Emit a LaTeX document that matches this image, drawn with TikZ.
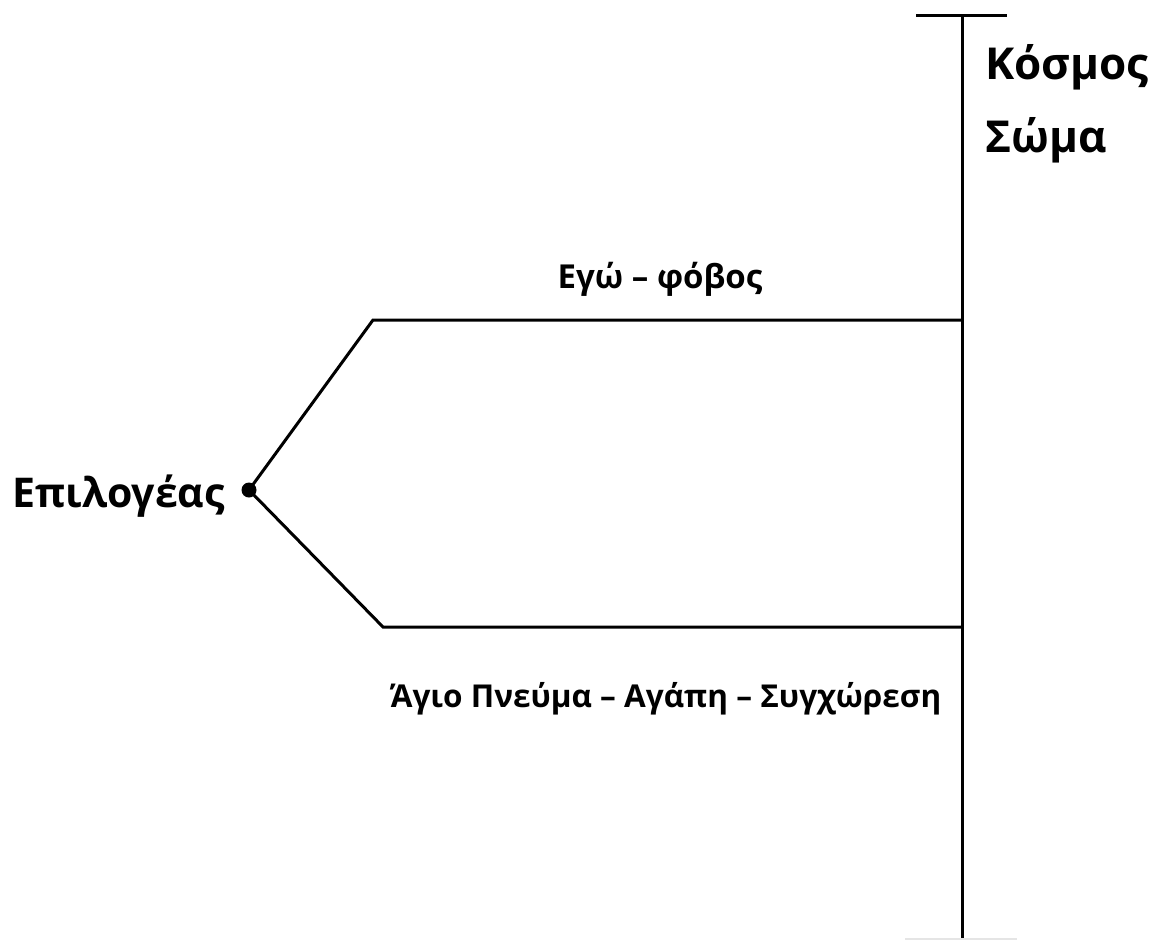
\documentclass[tikz,border=0pt]{standalone}
\usepackage{fontspec}
\setmainfont{Open Sans}
\begin{document}
\begin{tikzpicture}[x=1pt,y=-1pt,
  wire/.style={line width=3pt,line cap=butt,line join=miter},
  lbl/.style={inner sep=0pt}]
\useasboundingbox (0,0) rectangle (1154,940);
% coordinates
\coordinate (sel) at (249,490);
\coordinate (ub) at (373,320);
\coordinate (ue) at (962,320);
\coordinate (lb) at (383,627);
\coordinate (le) at (962,627);
\coordinate (vt) at (962,15);
\coordinate (vb) at (962,940);
\coordinate (tl) at (916,15);
\coordinate (tr) at (1007,15);
\coordinate (bl) at (905,939);
\coordinate (br) at (1017,939);
% lines
\draw[wire] (vt) -- (vb);
\draw[wire] (tl) -- (tr);
\draw[gray!20,line width=1.5pt] (bl) -- (br);
\draw[wire] (sel) -- (ub) -- (ue);
\draw[wire] (sel) -- (lb) -- (le);
\fill (sel) circle (7.5);
% labels
\node[lbl,anchor=base west,font=\bfseries\fontsize{44}{48}\selectfont] (kosmos) at (985,79) {Κόσμος};
\node[lbl,anchor=base west,font=\bfseries\fontsize{44}{48}\selectfont] (soma) at (985,152) {Σώμα};
\node[lbl,anchor=base east,font=\bfseries\fontsize{41}{44}\selectfont] (epil) at (225,507) {Επιλογέας};
\node[lbl,anchor=base,font=\bfseries\fontsize{33}{36}\selectfont] (ego) at (660,288) {Εγώ – φόβος};
\node[lbl,anchor=base,font=\bfseries\fontsize{31.5}{36}\selectfont] (agio) at (666,707) {Άγιο Πνεύμα – Αγάπη – Συγχώρεση};
\end{tikzpicture}
\end{document}
